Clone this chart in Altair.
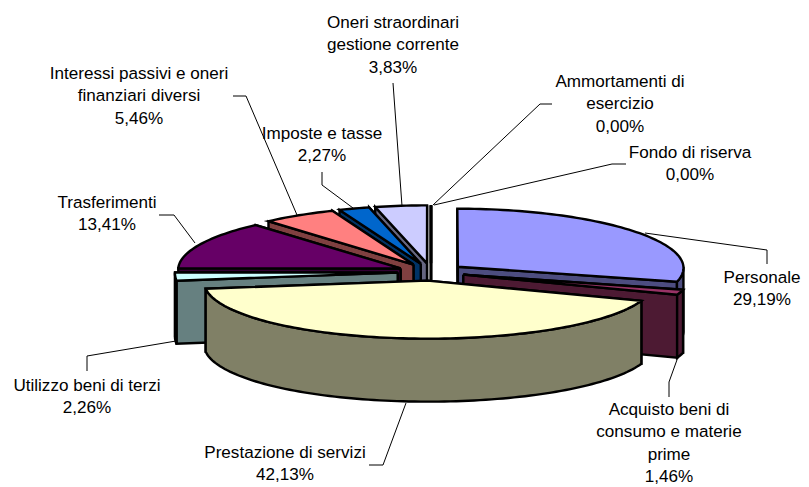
import math
import altair as alt
import pandas as pd

# ---- data ----
categories = ["Personale", "Acquisto beni di consumo e materie prime", "Prestazione di servizi",
              "Utilizzo beni di terzi", "Trasferimenti", "Interessi passivi e oneri finanziari diversi",
              "Imposte e tasse", "Oneri straordinari gestione corrente", "Ammortamenti di esercizio",
              "Fondo di riserva"]
shares = [29.19, 1.46, 42.13, 2.26, 13.41, 5.46, 2.27, 3.83, 0.0, 0.0]
top_colors = ["#9999FF", "#993366", "#FFFFCC", "#CCFFFF", "#660066", "#FF8080", "#0066CC", "#CCCCFF", "#FFFFFF", "#FFFFFF"]
side_colors = ["#4D4D80", "#4D1A33", "#808066", "#668080", "#330033", "#804040", "#003366", "#666680", "#808080", "#808080"]
draw_order = [7, 8, 9, 6, 5, 4, 3, 0, 1, 2]

label_lines = [
    ["Personale", "29,19%"],
    ["Acquisto beni di", "consumo e materie", "prime", "1,46%"],
    ["Prestazione di servizi", "42,13%"],
    ["Utilizzo beni di terzi", "2,26%"],
    ["Trasferimenti", "13,41%"],
    ["Interessi passivi e oneri", "finanziari diversi", "5,46%"],
    ["Imposte e tasse", "2,27%"],
    ["Oneri straordinari", "gestione corrente", "3,83%"],
    ["Ammortamenti di", "esercizio", "0,00%"],
    ["Fondo di riserva", "0,00%"],
]
label_anchor = [(762, 283), (669, 415), (285, 458), (87, 391), (107, 208),
                (139, 79), (322, 139), (393, 28), (620, 87), (690, 158)]
leaders = [
    [(645, 233), (767, 250), (767, 264)],
    [(678, 357), (669, 382), (669, 397)],
    [(406, 403), (383, 465), (369, 465)],
    [(176, 341), (87, 356), (87, 371)],
    [(195, 243), (174, 215), (159, 215)],
    [(297, 215), (246, 96), (233, 96)],
    [(353, 208), (322, 185), (322, 172)],
    [(402, 206), (393, 83)],
    [(433, 205), (540, 104), (552, 104)],
    [(434, 205), (612, 164), (626, 164)],
]

# ---- pie projection ----
W, H = 793, 479
CX, CY, RX, RY, DEPTH, EXPLODE, PERSP, LEFT = 431.0, 272.0, 226.0, 58.0, 63.0, 0.15, 0.02, 0.985
FONT, FSIZE, LINE = "Liberation Sans", 17.1, 22.4
X_SC = alt.Scale(domain=[8, 8 + W], range=[0, W])
Y_SC = alt.Scale(domain=[8, 8 + H], range=[0, H])


def proj(theta, mid, z=0.0, r=1.0):
    X = r * math.sin(theta) + EXPLODE * math.sin(mid)
    Y = r * math.cos(theta) + EXPLODE * math.cos(mid)
    s = 1 - PERSP * Y
    if X < 0:
        s *= LEFT
    return (CX + RX * X * s, CY - RY * Y + z)


def arc(a, b, mid, z=0.0):
    n = max(2, int(abs(b - a) / math.radians(1.5)) + 2)
    return [proj(a + (b - a) * i / (n - 1), mid, z) for i in range(n)]


def poly(points, fill, width=2.4):
    pts = list(points) + [points[0]]
    df = pd.DataFrame({"x": [p[0] for p in pts], "y": [p[1] for p in pts], "i": range(len(pts))})
    return alt.Chart(df).mark_line(fill=fill, stroke="black", strokeWidth=width, strokeJoin="miter",
                                   strokeMiterLimit=4, interpolate="linear").encode(
        x=alt.X("x:Q", scale=X_SC, axis=None),
        y=alt.Y("y:Q", scale=Y_SC, axis=None),
        order="i:Q",
    )


total = sum(shares)
starts, acc = [], 0.0
for v in shares:
    starts.append(acc)
    acc += v

layers = []
for k in draw_order:
    a = starts[k] / total * 2 * math.pi
    b = (starts[k] + shares[k]) / total * 2 * math.pi
    mid = (a + b) / 2
    apex = proj(0, mid, 0, 0)
    apex_low = proj(0, mid, DEPTH, 0)
    # the cut face turned away from the viewer goes first
    cuts = (a, b) if mid < math.pi else (b, a)
    for t in cuts:
        layers.append(poly([apex, proj(t, mid), proj(t, mid, DEPTH), apex_low], side_colors[k]))
    lo, hi = max(a, math.pi / 2), min(b, 3 * math.pi / 2)
    if hi > lo:
        layers.append(poly(arc(lo, hi, mid) + arc(hi, lo, mid, DEPTH), side_colors[k]))
    layers.append(poly([apex] + arc(a, b, mid), top_colors[k]))

for pts in leaders:
    df = pd.DataFrame({"x": [p[0] for p in pts], "y": [p[1] for p in pts], "i": range(len(pts))})
    layers.append(alt.Chart(df).mark_line(color="black", strokeWidth=1).encode(
        x=alt.X("x:Q", scale=X_SC, axis=None), y=alt.Y("y:Q", scale=Y_SC, axis=None), order="i:Q"))

rows = []
for lines, (cx, y0) in zip(label_lines, label_anchor):
    for j, t in enumerate(lines):
        rows.append({"x": cx, "y": y0 + j * LINE, "t": t})
layers.append(alt.Chart(pd.DataFrame(rows)).mark_text(
    font=FONT, fontSize=FSIZE, color="black", align="center", baseline="alphabetic").encode(
    x=alt.X("x:Q", scale=X_SC, axis=None), y=alt.Y("y:Q", scale=Y_SC, axis=None), text="t:N"))

chart = alt.layer(*layers).properties(
    width=W, height=H, padding=0, autosize=alt.AutoSizeParams(type="none"), background="white"
).configure_view(stroke=None)
chart.save("out.html", embed_options={"renderer": "svg", "actions": False})
